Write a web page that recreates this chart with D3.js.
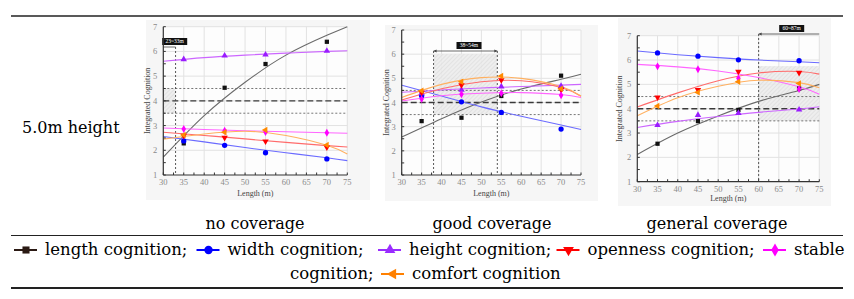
<!DOCTYPE html>
<html>
<meta charset="utf-8">
<style>
    body { margin: 0; background: #fff; }
    text { font-family: 'DejaVu Serif', serif; }
    .tick-label { font-family: 'Liberation Serif', serif; font-size: 8.5px; fill: #8a8a8a; }
    .axis-title { font-family: 'Liberation Serif', serif; font-size: 8px; fill: #444; }
</style>
<body>
<svg id="chart" width="854" height="299"></svg>
<script src="https://cdn.jsdelivr.net/npm/d3@7"></script>
<script>

// ---- data ----
const seriesNames = ["length cognition", "width cognition", "height cognition",
    "openness cognition", "stable cognition", "comfort cognition"];
const panelTitles = ["no coverage", "good coverage", "general coverage"];
const rowTitle = "5.0m height";
const rangeLabels = ["23~33m", "38~54m", "60~87m"];

const sampleLengths = [35, 45, 55, 70];
const fitLengths = [30, 40, 50, 60, 70, 75];
const xTicks = [30, 35, 40, 45, 50, 55, 60, 65, 70, 75];
const yTicks = [1, 2, 3, 4, 5, 6, 7];

// series order: length, width, height, openness, stable, comfort
const noCoveragePoints = [
    [2.28, 4.53, 5.49, 6.39],
    [2.38, 2.20, 1.90, 1.65],
    [5.68, 5.83, 5.87, 6.02],
    [2.59, 2.51, 2.36, 2.12],
    [2.86, 2.79, 2.74, 2.71],
    [2.62, 2.73, 2.82, 2.21]
];
const noCoverageFits = [
    [1.72, 3.40, 4.75, 5.85, 6.65, 7.00],
    [2.56, 2.34, 2.11, 1.90, 1.70, 1.58],
    [5.60, 5.75, 5.85, 5.93, 6.00, 6.03],
    [2.73, 2.60, 2.46, 2.32, 2.19, 2.13],
    [2.90, 2.84, 2.79, 2.75, 2.71, 2.69],
    [2.45, 2.66, 2.77, 2.60, 2.20, 1.85]
];
const goodCoveragePoints = [
    [3.23, 3.37, 4.27, 5.11],
    [4.28, 4.03, 3.59, 2.90],
    [4.38, 4.52, 4.66, 4.68],
    [4.41, 4.72, 4.93, 4.53],
    [4.14, 4.34, 4.38, 4.30],
    [4.49, 4.86, 5.10, 4.57]
];
const goodCoverageFits = [
    [2.57, 3.33, 4.02, 4.56, 4.96, 5.17],
    [4.72, 4.27, 3.82, 3.43, 3.07, 2.88],
    [4.42, 4.52, 4.60, 4.66, 4.72, 4.75],
    [4.10, 4.57, 4.86, 4.90, 4.62, 4.26],
    [4.06, 4.28, 4.38, 4.41, 4.33, 4.21],
    [4.21, 4.75, 5.03, 5.00, 4.66, 4.27]
];
const generalCoveragePoints = [
    [2.56, 3.49, 3.95, 4.83],
    [6.29, 6.16, 6.01, 5.97],
    [3.32, 3.74, 3.82, 3.96],
    [4.47, 4.77, 5.52, 5.48],
    [5.74, 5.62, 5.25, 4.81],
    [4.11, 4.67, 5.11, 5.04]
];
const generalCoverageFits = [
    [2.12, 3.00, 3.70, 4.30, 4.75, 5.00],
    [6.37, 6.22, 6.10, 6.00, 5.93, 5.89],
    [3.23, 3.48, 3.68, 3.85, 3.99, 4.08],
    [4.07, 4.65, 5.15, 5.47, 5.53, 5.42],
    [5.82, 5.72, 5.55, 5.28, 4.90, 4.59],
    [3.71, 4.45, 4.92, 5.17, 5.07, 4.86]
];

// reference zones
const refLines = [3.5, 4, 4.5];
const zoneX = [[30, 33], [38, 54], [60, 75]];
const zoneY = [[3.5, 4.5], [3.5, 6], [3.5, 5.75]];
const markLines = [[33], [38, 54], [60]];

// ---- styling ----
const markerColors = ["#111111", "#0000ff", "#9a1cff", "#ff0000", "#ff00ff", "#ff8a00"];
const lineColors = ["#6a6a6a", "#6b6bff", "#cc66ff", "#ff6b6b", "#ff66ff", "#ffb060"];
const legendColors = ["#2b1a14", "#0000ff", "#9a2cff", "#ff0000", "#ff00ff", "#ff8000"];

const symbolFor = [
    {type: d3.symbolSquare, rot: 0},
    {type: d3.symbolCircle, rot: 0},
    {type: d3.symbolTriangle, rot: 0},
    {type: d3.symbolTriangle, rot: 180},
    {type: d3.symbolDiamond, rot: 0},
    {type: d3.symbolTriangle, rot: -90}
];

const chart = d3.select("#chart");

const defs = chart.append("defs");
const hatch = defs.append("pattern")
    .attr("id", "hatch")
    .attr("patternUnits", "userSpaceOnUse")
    .attr("width", 3).attr("height", 3)
    .attr("patternTransform", "rotate(45)");
hatch.append("rect").attr("width", 3).attr("height", 3).attr("fill", "#ececec");
hatch.append("line").attr("x1", 0).attr("y1", 0).attr("x2", 0).attr("y2", 3)
    .attr("stroke", "#c4c4c4").attr("stroke-width", 0.7);

// table rules
chart.append("line").attr("x1", 11).attr("x2", 843).attr("y1", 16).attr("y2", 16)
    .attr("stroke", "#222").attr("stroke-width", 1.5);
chart.append("line").attr("x1", 11).attr("x2", 843).attr("y1", 235.5).attr("y2", 235.5)
    .attr("stroke", "#222").attr("stroke-width", 1);
chart.append("line").attr("x1", 11).attr("x2", 843).attr("y1", 288).attr("y2", 288)
    .attr("stroke", "#222").attr("stroke-width", 1.8);

chart.append("text")
    .attr("x", 22).attr("y", 133)
    .style("font-size", "16px")
    .text(rowTitle);

// panel frames (pixel layout)
const panels = [
    {left: 163.3, right: 347.3, top: 26.7, bottom: 175, bg: [146, 20, 224, 180],
        yLabelX: 150, xLabelY: 196, arrowY: 47, boxX: 174.7, titleX: 255,
        points: noCoveragePoints, fits: noCoverageFits},
    {left: 401.7, right: 581, top: 30, bottom: 175, bg: [385, 25, 213, 176],
        yLabelX: 389, xLabelY: 195.5, arrowY: 51, boxX: 469, titleX: 492,
        points: goodCoveragePoints, fits: goodCoverageFits},
    {left: 637.3, right: 819.3, top: 35.7, bottom: 181.7, bg: [618, 18, 213, 188],
        yLabelX: 622, xLabelY: 201, arrowY: 34, boxX: 791.7, titleX: 717,
        points: generalCoveragePoints, fits: generalCoverageFits}
];

panels.forEach((p, pi) => {
    const x = d3.scaleLinear().domain([30, 75]).range([p.left, p.right]);
    const y = d3.scaleLinear().domain([1, 7]).range([p.bottom, p.top]);
    const g = chart.append("g");

    g.append("rect")
        .attr("x", p.bg[0]).attr("y", p.bg[1]).attr("width", p.bg[2]).attr("height", p.bg[3])
        .attr("fill", "#f6f6f6");
    g.append("rect")
        .attr("x", p.left).attr("y", p.top)
        .attr("width", p.right - p.left).attr("height", p.bottom - p.top)
        .attr("fill", "#fdfdfd");

    // grid
    g.append("g").selectAll("line").data(xTicks.slice(1)).join("line")
        .attr("x1", d => x(d)).attr("x2", d => x(d))
        .attr("y1", p.top).attr("y2", p.bottom)
        .attr("stroke", "#e2e2e2").attr("stroke-width", 1);
    g.append("g").selectAll("line").data(yTicks.slice(1)).join("line")
        .attr("x1", p.left).attr("x2", p.right)
        .attr("y1", d => y(d)).attr("y2", d => y(d))
        .attr("stroke", "#e2e2e2").attr("stroke-width", 1);

    // shaded zone
    g.append("rect")
        .attr("x", x(zoneX[pi][0])).attr("y", y(zoneY[pi][1]))
        .attr("width", x(zoneX[pi][1]) - x(zoneX[pi][0]))
        .attr("height", y(zoneY[pi][0]) - y(zoneY[pi][1]))
        .attr("fill", "url(#hatch)").attr("opacity", 0.9);

    // reference lines
    refLines.forEach(v => {
        g.append("line")
            .attr("x1", p.left).attr("x2", p.right)
            .attr("y1", y(v)).attr("y2", y(v))
            .attr("stroke", v === 4 ? "#3a3a3a" : "#666")
            .attr("stroke-width", v === 4 ? 1.4 : 0.9)
            .attr("stroke-dasharray", v === 4 ? "6,3" : "2,2");
    });
    markLines[pi].forEach(v => {
        g.append("line")
            .attr("x1", x(v)).attr("x2", x(v))
            .attr("y1", p.arrowY).attr("y2", p.bottom)
            .attr("stroke", "#444").attr("stroke-width", 0.9)
            .attr("stroke-dasharray", "2,2");
    });

    // range arrow + label box
    const ax0 = x(zoneX[pi][0]), ax1 = x(zoneX[pi][1]);
    g.append("line")
        .attr("x1", ax0).attr("x2", ax1).attr("y1", p.arrowY).attr("y2", p.arrowY)
        .attr("stroke", "#444").attr("stroke-width", 0.8);
    const heads = pi === 1 ? [[ax0, 1], [ax1, -1]] : (pi === 2 ? [[ax0, 1]] : []);
    heads.forEach(([hx, dir]) => {
        g.append("path")
            .attr("d", `M${hx},${p.arrowY} l${3 * dir},-1.5 l0,3 Z`)
            .attr("fill", "#444");
    });
    g.append("rect")
        .attr("x", p.boxX - 12.5).attr("y", p.arrowY - 9)
        .attr("width", 25).attr("height", 7)
        .attr("fill", "#111");
    g.append("text")
        .attr("x", p.boxX).attr("y", p.arrowY - 3.6)
        .attr("text-anchor", "middle")
        .style("font-family", "'Liberation Serif', serif")
        .style("font-size", "5.5px").attr("fill", "#fff")
        .text(rangeLabels[pi]);

    // fit curves
    const line = d3.line().curve(d3.curveNatural)
        .x((d, i) => x(fitLengths[i])).y(d => y(d));
    p.fits.forEach((s, si) => {
        g.append("path")
            .attr("d", line(s))
            .attr("fill", "none")
            .attr("stroke", lineColors[si])
            .attr("stroke-width", 1.1);
    });

    // markers
    p.points.forEach((s, si) => {
        const sym = d3.symbol().type(symbolFor[si].type).size(si === 1 ? 22 : 18);
        g.append("g").selectAll("path").data(s).join("path")
            .attr("d", sym)
            .attr("transform", (d, i) => `translate(${x(sampleLengths[i])},${y(d)}) rotate(${symbolFor[si].rot})`)
            .attr("fill", markerColors[si]);
    });

    // axes
    g.append("line").attr("x1", p.left).attr("x2", p.right)
        .attr("y1", p.bottom).attr("y2", p.bottom).attr("stroke", "#333").attr("stroke-width", 1.2);
    g.append("line").attr("x1", p.left).attr("x2", p.left)
        .attr("y1", p.top).attr("y2", p.bottom).attr("stroke", "#333").attr("stroke-width", 1.2);
    const minorX = d3.range(30, 75.1, 2.5);
    g.append("g").selectAll("line").data(minorX).join("line")
        .attr("x1", d => x(d)).attr("x2", d => x(d))
        .attr("y1", p.bottom).attr("y2", p.bottom - 2.5)
        .attr("stroke", "#333").attr("stroke-width", 1);
    const minorY = d3.range(1, 7.01, 0.5);
    g.append("g").selectAll("line").data(minorY).join("line")
        .attr("x1", p.left).attr("x2", p.left + 2.5)
        .attr("y1", d => y(d)).attr("y2", d => y(d))
        .attr("stroke", "#333").attr("stroke-width", 1);

    g.append("g").selectAll("text").data(xTicks).join("text")
        .attr("class", "tick-label")
        .attr("x", d => x(d)).attr("y", p.bottom + 10)
        .attr("text-anchor", "middle")
        .text(d => d);
    g.append("g").selectAll("text").data(yTicks).join("text")
        .attr("class", "tick-label")
        .attr("x", p.left - 6).attr("y", d => y(d) + 3)
        .attr("text-anchor", "end")
        .text(d => d);

    g.append("text")
        .attr("class", "axis-title")
        .attr("x", (p.left + p.right) / 2).attr("y", p.xLabelY)
        .attr("text-anchor", "middle")
        .text("Length (m)");
    g.append("text")
        .attr("class", "axis-title")
        .attr("transform", `translate(${p.yLabelX},${(p.top + p.bottom) / 2}) rotate(-90)`)
        .attr("text-anchor", "middle")
        .text("Integrated Cognition");

    chart.append("text")
        .attr("x", p.titleX).attr("y", 229)
        .attr("text-anchor", "middle")
        .style("font-size", "16px")
        .text(panelTitles[pi]);
});

// legend
const legendRows = [
    {y: 250, items: [[0, 14], [1, 196.5], [2, 378], [3, 556.5], [4, 763]]},
    {y: 274, items: [[5, 381]]}
];
const legendLabels = ["length cognition;", "width cognition;", "height cognition;",
    "openness cognition;", "stable", "comfort cognition"];

legendRows.forEach(row => {
    row.items.forEach(([si, lx]) => {
        chart.append("line")
            .attr("x1", lx).attr("x2", lx + 23)
            .attr("y1", row.y).attr("y2", row.y)
            .attr("stroke", legendColors[si]).attr("stroke-width", 2);
        chart.append("path")
            .attr("d", d3.symbol().type(symbolFor[si].type).size(si === 1 ? 55 : 50)())
            .attr("transform", `translate(${lx + 12},${row.y}) rotate(${symbolFor[si].rot})`)
            .attr("fill", legendColors[si]);
        chart.append("text")
            .attr("x", lx + 31).attr("y", row.y + 5)
            .style("font-size", "16.5px")
            .text(legendLabels[si]);
    });
});
chart.append("text")
    .attr("x", 290).attr("y", 279)
    .style("font-size", "16.5px")
    .text("cognition;");

</script>
</body>
</html>
